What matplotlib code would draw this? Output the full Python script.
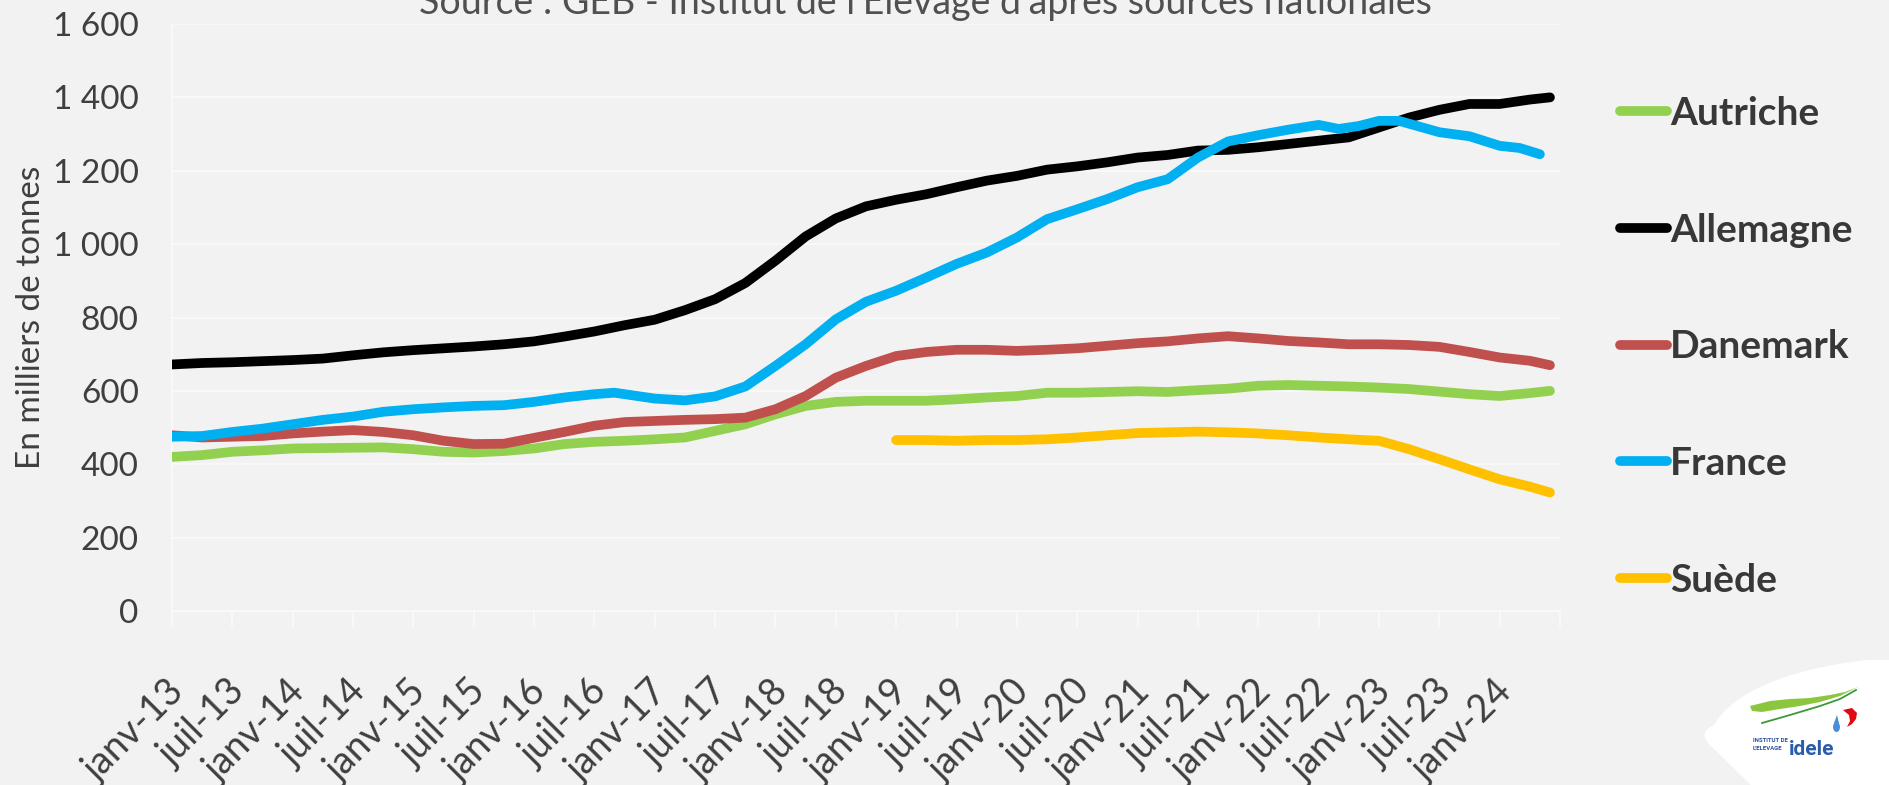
import matplotlib
matplotlib.use("Agg")
import matplotlib.pyplot as plt
import matplotlib.transforms as mtransforms
from matplotlib.path import Path
from matplotlib.patches import PathPatch, Polygon, Ellipse

plt.rcParams['font.family'] = ['Lato', 'DejaVu Sans']

# ---------------- data (milliers de tonnes, cumul mobile) ----------------
# month index: 0 = janv-13
mois = [0, 3, 6, 9, 12, 15, 18, 21, 24, 27, 30, 33, 36, 39, 42, 45, 48, 51, 54, 57,
        60, 63, 66, 69, 72, 75, 78, 81, 84, 87, 90, 93, 96, 99, 102, 105, 108, 111,
        114, 117, 120, 123, 126, 129, 132, 135, 137]

autriche = [420, 425, 434, 438, 443, 444, 445, 446, 441, 434, 432, 436, 443, 455, 461, 464,
            468, 473, 491, 509, 536, 559, 570, 573, 573, 573, 577, 582, 586, 595, 595, 597,
            599, 597, 602, 606, 614, 616, 614, 612, 609, 605, 598, 591, 586, 594, 600]

allemagne = [672, 676, 678, 681, 684, 688, 697, 705, 711, 716, 721, 727, 735, 748, 762, 779,
             794, 820, 850, 894, 955, 1021, 1070, 1103, 1121, 1136, 1155, 1173, 1186, 1203,
             1212, 1223, 1236, 1243, 1255, 1257, 1264, 1273, 1282, 1291, 1318, 1345, 1366,
             1382, 1382, 1394, 1400]

danemark = [479, 473, 475, 477, 484, 489, 493, 488, 479, 464, 455, 456, 472, 488, 505, 515,
            518, 521, 523, 527, 550, 586, 636, 668, 695, 706, 712, 712, 709, 712, 716, 723,
            730, 735, 743, 749, 743, 736, 732, 727, 727, 725, 720, 706, 691, 682, 670]

france_mois = [0, 3, 6, 9, 12, 15, 18, 21, 24, 27, 30, 33, 36, 39, 42, 44, 48, 51, 54, 57,
               60, 63, 66, 69, 72, 75, 78, 81, 84, 87, 90, 93, 96, 99, 102, 105, 108, 111,
               114, 116, 118, 120, 122, 126, 129, 132, 134, 136]
france = [475, 477, 488, 497, 509, 521, 530, 543, 550, 555, 559, 561, 570, 582, 591, 595,
          579, 574, 585, 612, 668, 727, 795, 843, 873, 909, 946, 977, 1018, 1068, 1095, 1123,
          1155, 1177, 1236, 1280, 1297, 1312, 1325, 1314, 1322, 1336, 1336, 1305, 1294, 1268,
          1262, 1245]

suede_mois = [72, 75, 78, 81, 84, 87, 90, 93, 96, 99, 102, 105, 108, 111, 114, 117, 120,
              123, 126, 129, 132, 135, 137]
suede = [466, 466, 464, 466, 466, 468, 473, 479, 485, 487, 489, 487, 484, 479, 473, 468, 464,
         441, 414, 386, 359, 339, 323]

series = [
    ("Autriche", mois, autriche, "#92D050"),
    ("Allemagne", mois, allemagne, "#000000"),
    ("Danemark", mois, danemark, "#C0504D"),
    ("France", france_mois, france, "#00B0F0"),
    ("Suède", suede_mois, suede, "#FFC000"),
]

x_ticks = list(range(0, 139, 6))
x_labels = ["janv-13", "juil-13", "janv-14", "juil-14", "janv-15", "juil-15", "janv-16",
            "juil-16", "janv-17", "juil-17", "janv-18", "juil-18", "janv-19", "juil-19",
            "janv-20", "juil-20", "janv-21", "juil-21", "janv-22", "juil-22", "janv-23",
            "juil-23", "janv-24", ""]
y_ticks = [0, 200, 400, 600, 800, 1000, 1200, 1400, 1600]
y_labels = ["0", "200", "400", "600", "800", "1 000", "1 200", "1 400", "1 600"]

titre = "Source : GEB - Institut de l'Elevage d'après sources nationales"
y_titre = "En milliers de tonnes"

# ---------------- figure ----------------
BG = "#F2F2F2"
TXT = "#3F3F3F"
W, H = 1890, 785
fig = plt.figure(figsize=(W / 100, H / 100), dpi=100, facecolor=BG)
ax = fig.add_axes([172 / W, 1 - 611 / H, (1560 - 172) / W, (611 - 24) / H])
ax.set_facecolor(BG)

for name, xs, ys, col in series:
    ax.plot(xs, ys, color=col, lw=7, solid_capstyle="round", solid_joinstyle="round",
            label=name, zorder=3)

ax.set_xlim(0, 138)
ax.set_ylim(0, 1600)

ax.set_yticks(y_ticks)
ax.set_yticklabels(y_labels)
ax.yaxis.grid(True, color="#F8F8F8", lw=1.5, zorder=0)
ax.set_axisbelow(True)
ax.tick_params(axis="y", length=0, pad=24, labelsize=24, labelcolor=TXT)

for s in ["top", "right"]:
    ax.spines[s].set_visible(False)
for s in ["left", "bottom"]:
    ax.spines[s].set_color("#F8F8F8")
    ax.spines[s].set_linewidth(1.5)

ax.set_xticks(x_ticks)
ax.set_xticklabels(x_labels)
ax.tick_params(axis="x", length=11.5, width=1.5, color="#F8F8F8", direction="out",
               pad=33.5, labelsize=27, labelcolor=TXT)
offset = mtransforms.ScaledTranslation(-6 / 100, 0, fig.dpi_scale_trans)
for lab in ax.get_xticklabels():
    lab.set_rotation(45)
    lab.set_ha("right")
    lab.set_va("top")
    lab.set_rotation_mode("anchor")
    lab.set_transform(lab.get_transform() + offset)

ax.set_ylabel(y_titre, fontsize=24, color=TXT)
ax.yaxis.set_label_coords((46 - 172) / (1560 - 172), 0.5)

fig.text(925 / W, 1 - 14 / H, titre, ha="center", va="baseline", fontsize=27,
         color="#505050")

leg = ax.legend(loc="upper left", bbox_to_anchor=(1620 / W, 1 - 96 / H),
                bbox_transform=fig.transFigure, frameon=False, borderpad=0,
                borderaxespad=0, handlelength=1.2, handletextpad=0.08,
                labelspacing=2.1, prop={"size": 28, "weight": "bold"})
for t in leg.get_texts():
    t.set_color("#383838")

# ---------------- logo ----------------
lax = fig.add_axes([1690 / W, 0, 200 / W, 125 / H])
lax.set_xlim(0, 200)
lax.set_ylim(0, 125)
lax.axis("off")
verts = [(66, -5), (22, 38), (6, 52), (24, 60), (42, 92), (100, 120), (200, 127),
         (205, 127), (205, -5), (66, -5)]
codes = [Path.MOVETO, Path.LINETO, Path.CURVE3, Path.CURVE3, Path.CURVE4, Path.CURVE4,
         Path.CURVE4, Path.LINETO, Path.LINETO, Path.CLOSEPOLY]
lax.add_patch(PathPatch(Path(verts, codes), facecolor="white", edgecolor="none"))
lax.add_patch(Polygon([(60, 79), (80, 84), (100, 86), (120, 87), (140, 90), (155, 93),
                       (168, 98), (150, 89), (130, 83), (110, 79), (90, 76), (72, 73),
                       (62, 74)], closed=True, facecolor="#8CC63F", edgecolor="none"))
lax.plot([72, 100, 130, 150, 166], [62, 70, 79, 86, 95], color="#3A9A3A", lw=1.3)
lax.add_patch(Ellipse((146.5, 58), 7, 10, facecolor="#4A8FD6", edgecolor="none"))
lax.add_patch(Polygon([(144, 62), (147, 70), (149, 62)], closed=True,
                      facecolor="#4A8FD6", edgecolor="none"))
lax.add_patch(Polygon([(153, 75), (162, 77), (167, 72), (166, 66), (162, 61), (157, 58),
                       (160, 64), (159, 70)], closed=True, facecolor="#E30613",
                      edgecolor="none"))
logo_font = ["Liberation Sans Narrow", "Roboto", "DejaVu Sans"]
lax.text(63, 44, "INSTITUT DE", fontsize=4.3, fontweight="bold", color="#2A4E9B",
         ha="left", va="center", family=logo_font)
lax.text(63, 36, "L'ELEVAGE", fontsize=4.3, fontweight="bold", color="#2A4E9B",
         ha="left", va="center", family=logo_font)
lax.text(99, 30, "idele", fontsize=15, fontweight="bold", color="#2A5CAA",
         ha="left", va="baseline", family=logo_font)

fig.savefig("out.png", dpi=100, facecolor=BG)
